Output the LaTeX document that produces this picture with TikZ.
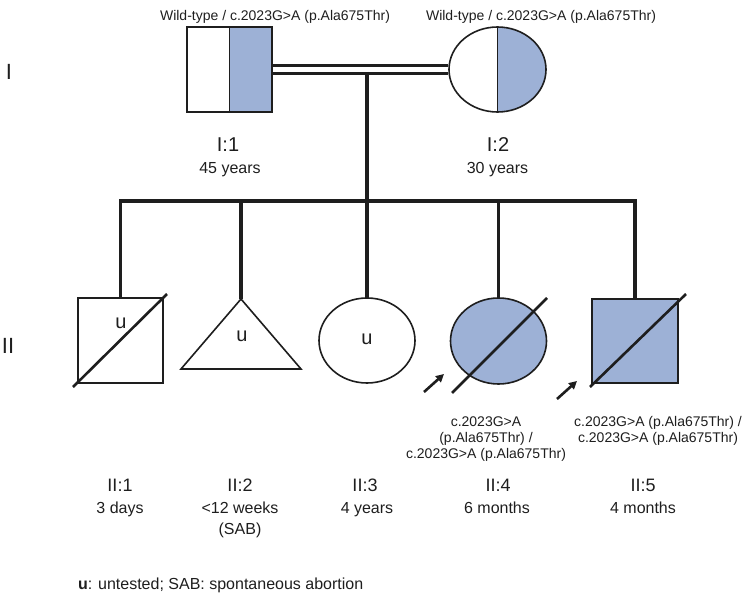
\documentclass[tikz,border=0pt]{standalone}
\usepackage{fontspec}
\setmainfont{Liberation Sans}
\usetikzlibrary{shapes.geometric,arrows.meta,calc}
\definecolor{carrier}{HTML}{9DB1D6}
\definecolor{ink}{HTML}{1E1E1E}
\begin{document}
\begin{tikzpicture}[x=1pt,y=-1pt,
  every node/.style={inner sep=0pt, outer sep=0pt, text=ink},
  ind/.style={draw=ink, line width=1.6pt},
  sq/.style={ind, rectangle, minimum width=85, minimum height=85},
  circ/.style={ind, ellipse, minimum width=96, minimum height=85},
  halffill/.style={path picture={\fill[carrier] (path picture bounding box.north) rectangle (path picture bounding box.south east); \draw[ink, line width=1.6pt] (path picture bounding box.north) -- (path picture bounding box.south);}},
  line/.style={draw=ink, line width=3.2pt},
  diag/.style={draw=ink, line width=2.6pt},
  proband/.style={draw=ink, line width=2.6pt, -{Triangle[length=8pt,width=8pt]}},
  txtS/.style={font=\fontsize{14}{15.7}\selectfont, align=center, anchor=base},
  txtM/.style={font=\fontsize{16}{21}\selectfont, align=center, anchor=base},
  txtL/.style={font=\fontsize{20}{22}\selectfont, anchor=base},
  txtLL/.style={font=\fontsize{18}{22}\selectfont, anchor=base},
  gen/.style={font=\fontsize{22}{24}\selectfont, anchor=base},
  ulab/.style={font=\fontsize{20}{22}\selectfont, anchor=base}
]
\useasboundingbox (0,0) rectangle (744,594);

% generation labels
\node[gen] (genI) at (9,80) {I};
\node[gen] (genII) at (8,353) {II};

% generation I
\node[sq, halffill] (I1) at (229.5,69.5) {};
\node[circ, minimum width=97, halffill] (I2) at (497.5,69.5) {};
\draw[ink, line width=2.7pt, double=white, double distance=4.8pt] ([xshift=0.8pt]I1.east) -- ([xshift=-0.8pt]I2.west);

\node[txtS] (gI1) at (275,21) {Wild-type / c.2023G>A (p.Ala675Thr)};
\node[txtS] (gI2) at (541,21) {Wild-type / c.2023G>A (p.Ala675Thr)};
\node[txtL] (nI1) at (228,151) {I:1};
\node[txtM] (aI1) at (230,173) {45 years};
\node[txtL] (nI2) at (498,151) {I:2};
\node[txtM] (aI2) at (497.5,173) {30 years};

% generation II
\node[sq] (II1) at (120.5,340.5) {};
\coordinate (II2) at (241,299);
\coordinate (II2l) at (181,369);
\coordinate (II2r) at (301,369);
\node[circ] (II3) at (367,340.5) {};
\node[circ, fill=carrier, minimum height=86] (II4) at (498.5,341) {};
\node[sq, fill=carrier, minimum width=86, minimum height=84] (II5) at (635,341) {};

\draw[ind, line join=miter] (II2) -- (II2l) -- (II2r) -- cycle;

\node[ulab] (u1) at (121,328) {u};
\node[ulab] (u2) at (242,341.5) {u};
\node[ulab] (u3) at (367,344) {u};

% lines of descent
\coordinate (mate) at (367,72);
\coordinate (sib) at (367,201);
\draw[line] (mate) -- (sib);
\draw[line, line join=miter] (II1.north) -- (II1.north |- sib) -- (II5.north |- sib) -- (II5.north);
\draw[line] (II2) -- (II2 |- sib);
\draw[line] (II3.north) -- (II3.north |- sib);
\draw[line] (II4.north) -- (II4.north |- sib);

% deceased strokes
\draw[diag] ([shift={(-5,4)}]II1.south west) -- ([shift={(4,-4)}]II1.north east);
\draw[diag] ([shift={(-46.5,52)}]II4.center) -- ([shift={(48.5,-43)}]II4.center);
\draw[diag] ([shift={(-2,4)}]II5.south west) -- ([shift={(8,-5)}]II5.north east);

% proband arrows
\coordinate (p4a) at ([shift={(-74.5,51)}]II4.center);
\coordinate (p4b) at ([shift={(-54.5,33)}]II4.center);
\coordinate (p5a) at ([shift={(-78,58)}]II5.center);
\coordinate (p5b) at ([shift={(-58,40)}]II5.center);
\draw[proband] (p4a) -- (p4b);
\draw[proband] (p5a) -- (p5b);

% genotype texts (base anchor = last line's baseline)
\node[txtS] (gII4) at (486,458) {c.2023G>A\\(p.Ala675Thr) /\\c.2023G>A (p.Ala675Thr)};
\node[txtS] (gII5) at (658,442.5) {c.2023G>A (p.Ala675Thr) /\\c.2023G>A (p.Ala675Thr)};

% IDs and ages
\node[txtLL] (nII1) at (120,491.5) {II:1};
\node[txtLL] (nII2) at (240,491.5) {II:2};
\node[txtLL] (nII3) at (365,491.5) {II:3};
\node[txtLL] (nII4) at (498,491.5) {II:4};
\node[txtLL] (nII5) at (643,491.5) {II:5};
\node[txtM] (aII1) at (120,513) {3 days};
\node[txtM] (aII2) at (240,534) {<12 weeks\\(SAB)};
\node[txtM] (aII3) at (367,513) {4 years};
\node[txtM] (aII4) at (497,513) {6 months};
\node[txtM] (aII5) at (643,513) {4 months};

% legend
\node[font=\fontsize{16}{18}\selectfont, anchor=base west] (legend) at (78,589) {\textbf{u}: untested; SAB: spontaneous abortion};
\end{tikzpicture}
\end{document}
